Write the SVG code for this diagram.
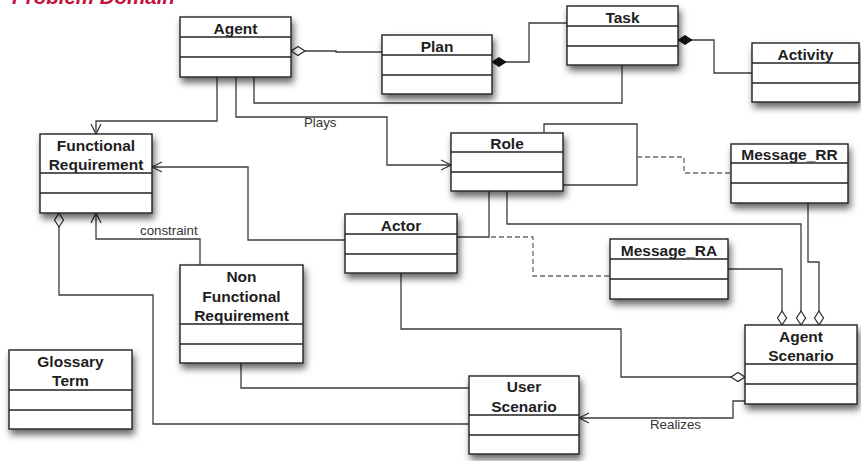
<svg xmlns="http://www.w3.org/2000/svg" width="861" height="461" viewBox="0 0 861 461">
  <style>
    .box { fill: #ffffff; stroke: #222222; stroke-width: 1.4; filter: url(#shadow); }
    .sep { stroke: #222222; stroke-width: 1.4; }
    .name { font-family: "Liberation Sans", Arial, sans-serif; font-weight: bold; font-size: 15.5px; fill: #1e1e1e; text-anchor: middle; }
    .wire { fill: none; stroke: #3c3c3c; stroke-width: 1.3; }
    .dash { fill: none; stroke: #6a6a6a; stroke-width: 1.3; stroke-dasharray: 5 3; }
    .label { font-family: "Liberation Sans", Arial, sans-serif; font-size: 13.3px; fill: #333333; }
    .title { font-family: "Liberation Sans", Arial, sans-serif; font-weight: bold; font-style: italic; font-size: 20.5px; fill: #c4123e; }
  </style>
  <defs>
    <filter id="shadow" x="-20%" y="-20%" width="150%" height="170%">
      <feDropShadow dx="2" dy="5" stdDeviation="3.5" flood-color="#000000" flood-opacity="0.6"/>
    </filter>
    <marker id="arrow" markerUnits="userSpaceOnUse" markerWidth="14" markerHeight="14" viewBox="-12 -7 14 14" refX="0" refY="0" orient="auto">
      <path d="M-10,-5 L0,0 L-10,5" fill="none" stroke="#3c3c3c" stroke-width="1.3"/>
    </marker>
    <marker id="diamond-open" markerUnits="userSpaceOnUse" markerWidth="18" markerHeight="12" viewBox="-1 -6 18 12" refX="0" refY="0" orient="auto">
      <path d="M0,0 L7,-4.5 L14,0 L7,4.5 Z" fill="#ffffff" stroke="#2a2a2a" stroke-width="1.2"/>
    </marker>
    <marker id="diamond-filled" markerUnits="userSpaceOnUse" markerWidth="18" markerHeight="12" viewBox="-1 -6 18 12" refX="0" refY="0" orient="auto">
      <path d="M0,0 L7,-4.5 L14,0 L7,4.5 Z" fill="#111111" stroke="#111111" stroke-width="1"/>
    </marker>
  </defs>

  <text class="title" x="12" y="4">Problem Domain</text>

  <!-- connectors -->
  <g id="connectors">
    <!-- aggregations / compositions -->
    <path class="wire" d="M291 51 H336 V52 H382" marker-start="url(#diamond-open)"/>
    <path class="wire" d="M492 62 H529 V23 H567" marker-start="url(#diamond-filled)"/>
    <path class="wire" d="M678 40 H714 V73 H752" marker-start="url(#diamond-filled)"/>
    <path class="wire" d="M59 213 V295 H153 V424 H469" marker-start="url(#diamond-open)"/>
    <path class="wire" d="M801 325 V224 H507 V191" marker-start="url(#diamond-open)"/>
    <path class="wire" d="M782 325 V269 H728" marker-start="url(#diamond-open)"/>
    <path class="wire" d="M819 325 V262 H808 V203" marker-start="url(#diamond-open)"/>
    <path class="wire" d="M745 377 H621 V329 H401 V273" marker-start="url(#diamond-open)"/>

    <!-- directed associations -->
    <path class="wire" d="M217 77 V121 H96 V134" marker-end="url(#arrow)"/>
    <path class="wire" d="M236 77 V117 H387 V165 H451" marker-end="url(#arrow)"/>
    <path class="wire" d="M345 240 H248 V167 H152" marker-end="url(#arrow)"/>
    <path class="wire" d="M200 265 V239 H96 V213" marker-end="url(#arrow)"/>
    <path class="wire" d="M745 401 H733 V418 H579" marker-end="url(#arrow)"/>

    <!-- plain associations -->
    <path class="wire" d="M254 77 V103 H622 V65"/>
    <path class="wire" d="M544 133 V124 H637 V185 H563"/>
    <path class="wire" d="M489 191 V237 H457"/>
    <path class="wire" d="M241 363 V388 H469"/>

    <!-- association classes -->
    <path class="dash" d="M637 157 H684 V173 H731"/>
    <path class="dash" d="M483 237 H533 V276 H610"/>

    <text class="label" x="304" y="127">Plays</text>
    <text class="label" x="140" y="235">constraint</text>
    <text class="label" x="650" y="429">Realizes</text>
  </g>

  <g id="agent">
    <rect class="box" x="180" y="17" width="111" height="60"/>
    <line class="sep" x1="180" y1="37" x2="291" y2="37"/>
    <line class="sep" x1="180" y1="57" x2="291" y2="57"/>
    <text class="name" x="235.5" y="34">Agent</text>
  </g>

  <g id="plan">
    <rect class="box" x="382" y="35" width="110" height="59"/>
    <line class="sep" x1="382" y1="55" x2="492" y2="55"/>
    <line class="sep" x1="382" y1="75" x2="492" y2="75"/>
    <text class="name" x="437" y="52">Plan</text>
  </g>

  <g id="task">
    <rect class="box" x="567" y="6" width="111" height="59"/>
    <line class="sep" x1="567" y1="26" x2="678" y2="26"/>
    <line class="sep" x1="567" y1="46" x2="678" y2="46"/>
    <text class="name" x="622.5" y="23">Task</text>
  </g>

  <g id="activity">
    <rect class="box" x="752" y="43" width="107" height="59"/>
    <line class="sep" x1="752" y1="63" x2="859" y2="63"/>
    <line class="sep" x1="752" y1="83" x2="859" y2="83"/>
    <text class="name" x="805.5" y="60">Activity</text>
  </g>

  <g id="functional-requirement">
    <rect class="box" x="40" y="134" width="112" height="79"/>
    <line class="sep" x1="40" y1="173" x2="152" y2="173"/>
    <line class="sep" x1="40" y1="193" x2="152" y2="193"/>
    <text class="name" x="96" y="151">Functional</text>
    <text class="name" x="96" y="170">Requirement</text>
  </g>

  <g id="role">
    <rect class="box" x="451" y="133" width="112" height="58"/>
    <line class="sep" x1="451" y1="152" x2="563" y2="152"/>
    <line class="sep" x1="451" y1="172" x2="563" y2="172"/>
    <text class="name" x="507" y="149">Role</text>
  </g>

  <g id="message-rr">
    <rect class="box" x="731" y="144" width="117" height="59"/>
    <line class="sep" x1="731" y1="163" x2="848" y2="163"/>
    <line class="sep" x1="731" y1="183" x2="848" y2="183"/>
    <text class="name" x="789.5" y="160">Message_RR</text>
  </g>

  <g id="actor">
    <rect class="box" x="345" y="214" width="112" height="59"/>
    <line class="sep" x1="345" y1="234" x2="457" y2="234"/>
    <line class="sep" x1="345" y1="254" x2="457" y2="254"/>
    <text class="name" x="401" y="231">Actor</text>
  </g>

  <g id="message-ra">
    <rect class="box" x="610" y="239" width="118" height="60"/>
    <line class="sep" x1="610" y1="259" x2="728" y2="259"/>
    <line class="sep" x1="610" y1="279" x2="728" y2="279"/>
    <text class="name" x="669" y="256">Message_RA</text>
  </g>

  <g id="non-functional-requirement">
    <rect class="box" x="180" y="265" width="123" height="98"/>
    <line class="sep" x1="180" y1="324" x2="303" y2="324"/>
    <line class="sep" x1="180" y1="344" x2="303" y2="344"/>
    <text class="name" x="241.5" y="282">Non</text>
    <text class="name" x="241.5" y="302">Functional</text>
    <text class="name" x="241.5" y="321">Requirement</text>
  </g>

  <g id="glossary-term">
    <rect class="box" x="9" y="350" width="123" height="79"/>
    <line class="sep" x1="9" y1="390" x2="132" y2="390"/>
    <line class="sep" x1="9" y1="410" x2="132" y2="410"/>
    <text class="name" x="70.5" y="367">Glossary</text>
    <text class="name" x="70.5" y="386">Term</text>
  </g>

  <g id="user-scenario">
    <rect class="box" x="469" y="376" width="110" height="78"/>
    <line class="sep" x1="469" y1="415" x2="579" y2="415"/>
    <line class="sep" x1="469" y1="435" x2="579" y2="435"/>
    <text class="name" x="524" y="392">User</text>
    <text class="name" x="524" y="412">Scenario</text>
  </g>

  <g id="agent-scenario">
    <rect class="box" x="745" y="325" width="112" height="79"/>
    <line class="sep" x1="745" y1="364" x2="857" y2="364"/>
    <line class="sep" x1="745" y1="384" x2="857" y2="384"/>
    <text class="name" x="801" y="342">Agent</text>
    <text class="name" x="801" y="361">Scenario</text>
  </g>
</svg>
